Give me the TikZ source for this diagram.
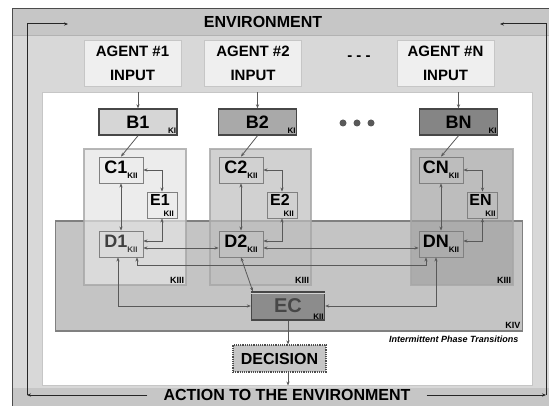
\documentclass[tikz,border=0pt]{standalone}
\usepackage{fontspec}
\setmainfont{Liberation Sans}
\usepackage{tikz}
\usetikzlibrary{arrows.meta}

\definecolor{envout}{HTML}{C6C6C6}
\definecolor{envmid}{HTML}{D8D8D8}
\definecolor{agentfill}{HTML}{EFEFEF}
\definecolor{kivfill}{HTML}{C4C4C4}
\definecolor{panelA}{HTML}{E4E4E4}
\definecolor{panelB}{HTML}{BEBEBE}
\definecolor{panelC}{HTML}{A2A2A2}
\definecolor{panelline}{HTML}{A6A6A6}
\definecolor{bA}{HTML}{D6D6D6}
\definecolor{bB}{HTML}{A9A9A9}
\definecolor{bC}{HTML}{858585}
\definecolor{ecfill}{HTML}{8C8C8C}
\definecolor{decfill}{HTML}{C6C6C6}

\newcommand{\ksub}[1]{\raisebox{-5pt}{\fontsize{8}{8}\selectfont #1}}

\begin{document}
\begin{tikzpicture}[x=1pt, y=-1pt,
    >={Stealth[length=4pt,width=3.2pt]},
    agentbox/.style={draw=gray!45, fill=agentfill, minimum width=97pt, minimum height=46pt, inner sep=0pt, align=center, font=\fontsize{15}{24}\selectfont\bfseries},
    kibox/.style={draw=black!72, line width=1.4pt, minimum width=78pt, minimum height=26pt, font=\fontsize{18}{18}\selectfont\bfseries},
    cellbox/.style={draw=black!50, line width=0.9pt, minimum width=44pt, minimum height=26pt, inner sep=0pt, font=\fontsize{18}{18}\selectfont\bfseries},
    ebox/.style={cellbox, minimum width=30pt, align=right, font=\fontsize{16}{16}\selectfont\bfseries},
    panel/.style={draw=panelline, line width=1.5pt, fill opacity=0.7, draw opacity=0.8},
    ksub/.style={font=\fontsize{8}{8}\selectfont\bfseries, text=black, draw=none, fill=none, inner sep=1.5pt, anchor=south east},
    klabel/.style={font=\fontsize{9}{9}\selectfont\bfseries, inner sep=2.5pt, anchor=south east},
    conn/.style={draw=black!65, line width=0.8pt},
    loopline/.style={draw=black!85, line width=1pt},
]
    \useasboundingbox (0,0) rectangle (549,406);

    % Environment frame
    \fill[envout] (12.5,8.5) rectangle (552,410);
    \fill[envmid] (12.5,35) rectangle (552,388);
    \draw[gray!60] (12.5,35) -- (552,35);
    \draw[black!70, line width=1.2pt] (12.5,410) -- (12.5,8.5) -- (552,8.5);
    \node[font=\fontsize{16}{16}\selectfont\bfseries] (env) at (263,22) {ENVIRONMENT};

    % Agent inputs
    \node[agentbox] (in1) at (132.5,63) {AGENT \#1\\INPUT};
    \node[agentbox] (in2) at (253,63) {AGENT \#2\\INPUT};
    \node[font=\fontsize{15}{15}\selectfont\bfseries] (indots) at (359,58) {- - -};
    \node[agentbox] (inN) at (445.5,63) {AGENT \#N\\INPUT};

    % Agent area
    \node[draw=gray!45, fill=white, line width=1pt, minimum width=490pt, minimum height=292pt] (arena) at (287,239) {};

    % KIV
    \node[draw=black!50, line width=1.2pt, fill=kivfill, minimum width=467pt, minimum height=110pt] (kiv) at (289,276) {};
    \node[klabel] (kivlab) at (kiv.south east) {KIV};
    \node[font=\fontsize{9}{9}\selectfont\bfseries\itshape, anchor=east] (ipt) at (522,339) {Intermittent Phase Transitions};

    % KIII panels
    \node[panel, fill=panelA, minimum width=102pt, minimum height=136pt] (p1) at (135,217) {};
    \node[panel, fill=panelB, minimum width=101pt, minimum height=136pt] (p2) at (260.5,217) {};
    \node[panel, fill=panelC, minimum width=102pt, minimum height=136pt] (pN) at (462,217) {};
    \node[klabel] (p1lab) at (p1.south east) {KIII};
    \node[klabel] (p2lab) at (p2.south east) {KIII};
    \node[klabel] (pNlab) at (pN.south east) {KIII};

    % KI sets
    \node[kibox, fill=bA, label={[ksub]south east:KI}] (b1) at (138,122) {B1};
    \node[kibox, fill=bB, label={[ksub]south east:KI}] (b2) at (257.5,122) {B2};
    \node[kibox, fill=bC, label={[ksub]south east:KI}] (bN) at (458.5,122) {BN};
    \fill[black!65] (343,123) circle (3.5pt) (357,123) circle (3.5pt) (371,123) circle (3.5pt);

    % KII sets
    \node[cellbox] (c1) at (121,170) {C1\ksub{KII}};
    \node[ebox] (e1) at (162,205) {E1\hspace*{4pt}\\[-5pt]{\fontsize{8}{8}\selectfont KII}};
    \node[cellbox, text=black!75] (d1) at (121,244) {D1\ksub{KII}};
    \node[cellbox] (c2) at (241,170) {C2\ksub{KII}};
    \node[ebox] (e2) at (282,205) {E2\hspace*{4pt}\\[-5pt]{\fontsize{8}{8}\selectfont KII}};
    \node[cellbox] (d2) at (241,244) {D2\ksub{KII}};
    \node[cellbox] (cN) at (441,170) {CN\ksub{KII}};
    \node[ebox] (eN) at (482.5,205) {EN\hspace*{4pt}\\[-5pt]{\fontsize{8}{8}\selectfont KII}};
    \node[cellbox] (dN) at (441,244) {DN\ksub{KII}};

    \node[draw=black!72, line width=1.4pt, fill=ecfill, minimum width=73pt, minimum height=28pt, text=black!72, font=\fontsize{20}{20}\selectfont\bfseries, label={[ksub]south east:KII}] (ec) at (288,306) {EC};
    \draw[gray!35, line width=0.8pt] ([yshift=-2.5pt]ec.north west) -- ([yshift=-2.5pt]ec.north east);
    \node[draw=black!70, densely dotted, line width=1.2pt, fill=decfill, minimum width=93pt, minimum height=27pt, font=\fontsize{16}{16}\selectfont\bfseries] (dec) at (279.5,358.5) {DECISION};

    % Arrows into the KI sets
    \draw[conn,->] (b1.north |- arena.north) -- (b1.north);
    \draw[conn,->] (b2.north |- arena.north) -- (b2.north);
    \draw[conn,->] (bN.north |- arena.north) -- (bN.north);

    % Column 1
    \draw[conn,->] (b1.south) -- (c1.north);
    \draw[conn,<->] (c1.south) -- (d1.north);
    \draw[conn,<->] (c1.east) -| (e1.north);
    \draw[conn,<->] (e1.south) |- ([yshift=3pt]d1.east);
    % Column 2
    \draw[conn,->] (b2.south) -- (c2.north);
    \draw[conn,<->] (c2.south) -- (d2.north);
    \draw[conn,<->] (c2.east) -| (e2.north);
    \draw[conn,<->] (e2.south) |- ([yshift=3pt]d2.east);
    % Column N
    \draw[conn,->] (bN.south) -- (cN.north);
    \draw[conn,<->] (cN.south) -- (dN.north);
    \draw[conn,<->] (cN.east) -| (eN.north);
    \draw[conn,<->] (eN.south) |- ([yshift=3pt]dN.east);

    % KIII links
    \draw[conn,<->] ([yshift=-4pt]d1.east) -- ([yshift=-4pt]d2.west);
    \draw[conn,<->] ([yshift=-4pt]d2.east) -- ([yshift=-4pt]dN.west);
    \draw[conn,<->] ([xshift=16pt]d1.south) -- ++(0,8) -| ([xshift=-15pt]dN.south);

    % KIV links
    \draw[conn,<->] ([xshift=-3pt]d1.south) |- (ec.west);
    \draw[conn,<->] (d2.south) -- ([xshift=2pt]ec.north west);
    \draw[conn,<->] ([xshift=-5pt]dN.south) |- (ec.east);
    \draw[conn,->] (ec.south) -- (ec.south |- dec.north);
    \draw[conn,->] (ec.south |- dec.south) -- (ec.south |- arena.south);

    % Action loop
    \node[font=\fontsize{16}{16}\selectfont\bfseries, inner xsep=16pt] (action) at (287,395) {ACTION TO THE ENVIRONMENT};
    \coordinate (sw) at (27,395);
    \coordinate (nwtip) at (68,24);
    \coordinate (se) at (546,395);
    \coordinate (netip) at (500,24);
    \draw[loopline,->] (action.west) -- (sw);
    \draw[loopline,->] (sw) |- (nwtip);
    \draw[loopline,->] (action.east) -- (se);
    \draw[loopline,->] (se) |- (netip);
\end{tikzpicture}
\end{document}
